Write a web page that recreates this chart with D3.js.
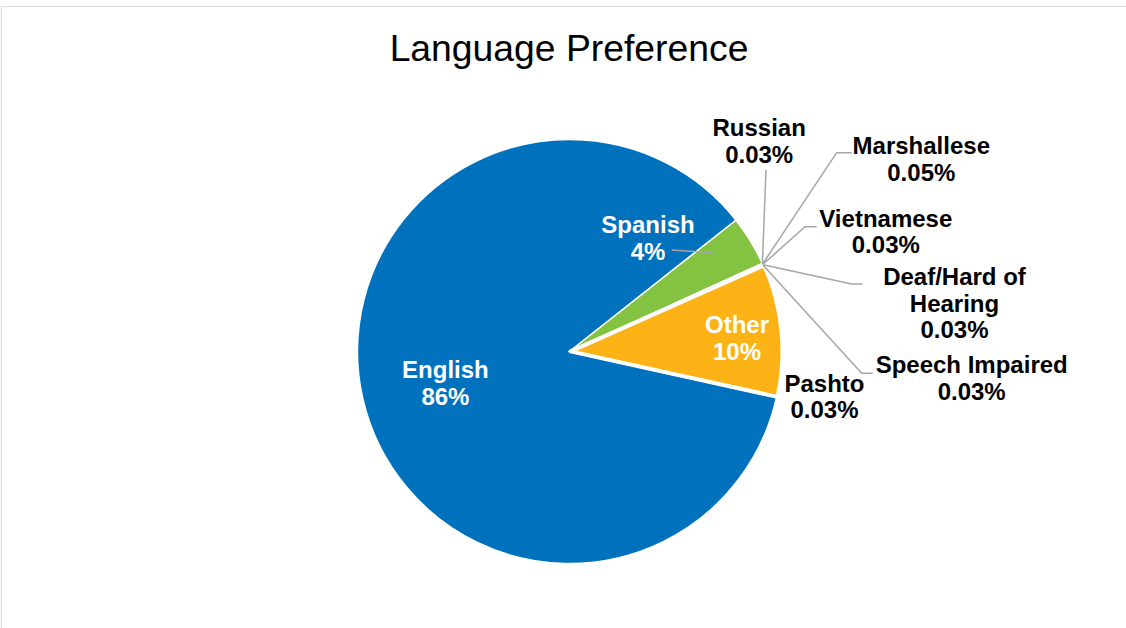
<!DOCTYPE html>
<html>
<head>
<meta charset="utf-8">
<script src="https://cdn.jsdelivr.net/npm/d3@7"></script>
<style>
  html, body { margin: 0; padding: 0; background: #fff; }
  svg { display: block; }
</style>
</head>
<body>
<svg id="chart" width="1126" height="628"></svg>
<script>
// ---- data ----
const categories = ["English", "Spanish", "Russian", "Marshallese", "Vietnamese",
                    "Deaf/Hard of Hearing", "Speech Impaired", "Other", "Pashto"];
const values = [85.9, 3.8, 0.03, 0.05, 0.03, 0.03, 0.03, 10.1, 0.03];
const labelLines = [
  ["English", "86%"],
  ["Spanish", "4%"],
  ["Russian", "0.03%"],
  ["Marshallese", "0.05%"],
  ["Vietnamese", "0.03%"],
  ["Deaf/Hard of", "Hearing", "0.03%"],
  ["Speech Impaired", "0.03%"],
  ["Other", "10%"],
  ["Pashto", "0.03%"]
];
const title = "Language Preference";

// ---- styles / layout ----
const colors = {
  "English": "#0071bd", "Spanish": "#84c341", "Other": "#fdb316",
  "Russian": "#7f7f7f", "Marshallese": "#264478", "Vietnamese": "#9e480e",
  "Deaf/Hard of Hearing": "#636363", "Speech Impaired": "#997300", "Pashto": "#43682b"
};
const cx = 569.5, cy = 351.5, R = 212;
const explode = { "Other": 1 };
const strokeW = { "Other": 4 };
// label anchor: centre x, first baseline y (absolute page pixels), colour
const labelPos = {
  "English": [445.4, 378.3, "#fff"],
  "Spanish": [648, 233.3, "#fff"],
  "Other": [737, 333.3, "#fff"],
  "Russian": [759.2, 136, "#000"],
  "Marshallese": [921.3, 154.3, "#000"],
  "Vietnamese": [885.8, 226.7, "#000"],
  "Deaf/Hard of Hearing": [954.5, 285, "#000"],
  "Speech Impaired": [971.7, 373.3, "#000"],
  "Pashto": [824.5, 391.7, "#000"]
};
// leader elbow points (from slice edge towards label)
const leaders = {
  "Russian": [[766, 170]],
  "Marshallese": [[836.7, 152.7], [851.7, 152.7]],
  "Vietnamese": [[805, 226.7], [816.7, 226.7]],
  "Deaf/Hard of Hearing": [[851.7, 284], [862.7, 284]],
  "Speech Impaired": [[861.7, 373.3], [872.7, 373.3]]
};
const lineH = 26.6;
const fontFamily = "'Liberation Sans', Arial, Helvetica, sans-serif";

const svg = d3.select("#chart");

// outer border
svg.append("rect")
  .attr("x", 1.5).attr("y", 6.5).attr("width", 1300).attr("height", 800)
  .attr("fill", "none").attr("stroke", "#d9d9d9").attr("stroke-width", 1);

// title
svg.append("text")
  .attr("x", 569).attr("y", 61)
  .attr("text-anchor", "middle")
  .attr("font-family", fontFamily)
  .attr("font-size", 37.3)
  .attr("fill", "#000")
  .text(title);

const data = categories.map((c, i) => ({ name: c, value: values[i], lines: labelLines[i] }));

const deg = Math.PI / 180;
const pie = d3.pie().sort(null).value(d => d.value)
  .startAngle(102.5 * deg).endAngle(102.5 * deg + 2 * Math.PI);
const arcs = pie(data);
const arc = d3.arc().innerRadius(0).outerRadius(R);

const g = svg.append("g").attr("transform", `translate(${cx},${cy})`);

// draw exploded / thick-bordered slices last
const drawOrder = arcs.slice().sort((a, b) =>
  (strokeW[a.data.name] ? 1 : 0) - (strokeW[b.data.name] ? 1 : 0));

g.selectAll("path.slice")
  .data(drawOrder)
  .join("path")
  .attr("class", "slice")
  .attr("d", arc)
  .attr("fill", d => colors[d.data.name])
  .attr("stroke", "#fff")
  .attr("stroke-width", d => strokeW[d.data.name] || 1.5)
  .attr("stroke-linejoin", "round")
  .attr("transform", d => {
    const e = explode[d.data.name] || 0;
    const a = (d.startAngle + d.endAngle) / 2;
    return `translate(${e * Math.sin(a)},${-e * Math.cos(a)})`;
  });

// leader lines
const lineGen = d3.line();
arcs.forEach(d => {
  const pts = leaders[d.data.name];
  if (!pts) return;
  const a = (d.startAngle + d.endAngle) / 2;
  const start = [cx + R * Math.sin(a), cy - R * Math.cos(a)];
  svg.append("path")
    .attr("d", lineGen([start, ...pts]))
    .attr("fill", "none")
    .attr("stroke", "#a6a6a6")
    .attr("stroke-width", 1.5);
});
// Spanish leader (label to slice)
svg.append("path")
  .attr("d", lineGen([[671.7, 250], [713.3, 252.7]]))
  .attr("fill", "none")
  .attr("stroke", "#a6a6a6")
  .attr("stroke-width", 1.5);

// labels
data.forEach(d => {
  const p = labelPos[d.name];
  const t = svg.append("text")
    .attr("text-anchor", "middle")
    .attr("font-family", fontFamily)
    .attr("font-weight", "bold")
    .attr("font-size", 24)
    .attr("fill", p[2]);
  d.lines.forEach((ln, i) => {
    t.append("tspan").attr("x", p[0]).attr("y", p[1] + i * lineH).text(ln);
  });
});
</script>
</body>
</html>
